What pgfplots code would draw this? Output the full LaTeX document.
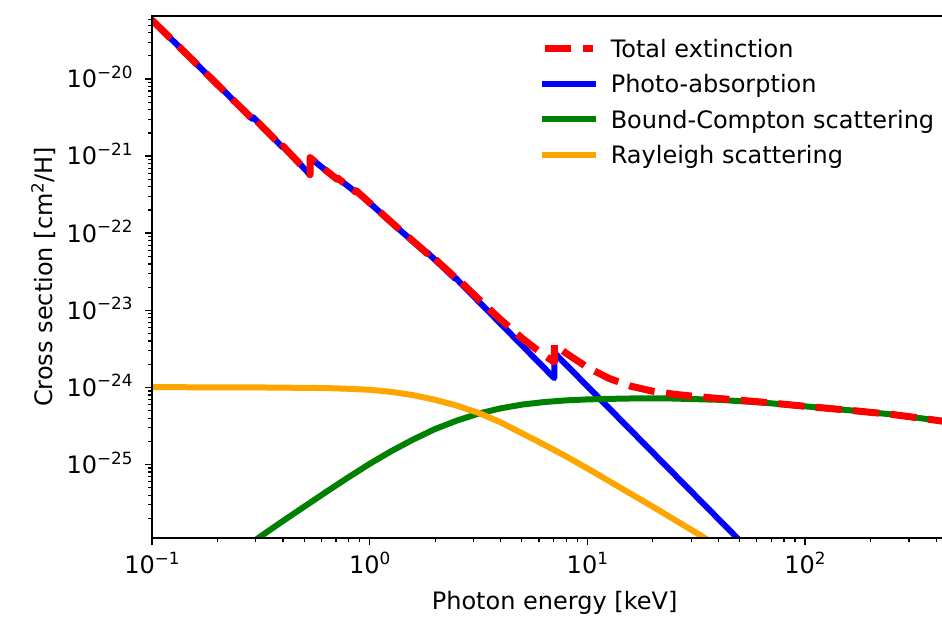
\documentclass[border=0pt]{standalone}
\usepackage{fontspec}
\setmainfont{DejaVu Sans}
\usepackage{pgfplots}
\pgfplotsset{compat=1.18}

% 10 with a raised exponent, set in the text font like matplotlib's mathtext
\newcommand{\pw}[1]{10\raisebox{4.6pt}{\fontsize{8.4}{9}\selectfont #1}}
\newcommand{\sps}[1]{\raisebox{4.6pt}{\fontsize{8.4}{9}\selectfont #1}}

\begin{document}
\begin{tikzpicture}
\begin{axis}[
    scale only axis,
    width=402.6pt, height=261pt,
    xmode=log, ymode=log,
    xmin=0.1, xmax=500,
    ymin=1.114e-26, ymax=6.58e-20,
    axis on top,
    tick pos=left, tick align=outside,
    major tick length=3.5pt, minor tick length=2pt,
    every major tick/.style={black, line width=0.8pt},
    every minor tick/.style={black, line width=0.6pt},
    axis line style={line width=0.8pt},
    xtick={0.1,1,10,100},
    xticklabels={\pw{−1},\pw{0},\pw{1},\pw{2}},
    minor xtick={0.2,0.3,0.4,0.5,0.6,0.7,0.8,0.9,2,3,4,5,6,7,8,9,20,30,40,50,60,70,80,90,200,300,400},
    ytick={1e-25,1e-24,1e-23,1e-22,1e-21,1e-20},
    yticklabels={\pw{−25},\pw{−24},\pw{−23},\pw{−22},\pw{−21},\pw{−20}},
    minor ytick={2e-26,3e-26,4e-26,5e-26,6e-26,7e-26,8e-26,9e-26,
                 2e-25,3e-25,4e-25,5e-25,6e-25,7e-25,8e-25,9e-25,
                 2e-24,3e-24,4e-24,5e-24,6e-24,7e-24,8e-24,9e-24,
                 2e-23,3e-23,4e-23,5e-23,6e-23,7e-23,8e-23,9e-23,
                 2e-22,3e-22,4e-22,5e-22,6e-22,7e-22,8e-22,9e-22,
                 2e-21,3e-21,4e-21,5e-21,6e-21,7e-21,8e-21,9e-21,
                 2e-20,3e-20,4e-20,5e-20,6e-20},
    tick label style={font=\fontsize{12}{14}\selectfont},
    xticklabel style={anchor=north, inner sep=0pt, yshift=-3.35pt},
    yticklabel style={anchor=base east, inner sep=0pt, xshift=-6pt, yshift=-4.37pt},
    label style={font=\fontsize{12}{14}\selectfont},
    xlabel={Photon energy [keV]},
    ylabel={Cross section [cm\sps{2}/H]},
    xlabel style={at={(axis description cs:0.5,-0.1366)}, anchor=base},
    ylabel style={at={(axis description cs:-0.1233,0.5)}, anchor=base},
    legend entries={Total extinction, Photo-absorption, Bound-Compton scattering, Rayleigh scattering},
    legend image code/.code={\draw[#1] (0pt,4.37pt) -- (24pt,4.37pt);},
    legend style={draw=none, fill=none, at={(0.4842,0.9559)}, anchor=north west,
        inner sep=0pt, outer sep=0pt, row sep=5.75pt, column sep=6.95pt,
        cells={anchor=base west},
        nodes={inner sep=0pt, text height=9pt, text depth=3pt},
        font=\fontsize{12}{14}\selectfont},
]

\addlegendimage{red, line width=3.5pt, dash pattern=on 13pt off 5.8pt, line cap=butt}

% photo-absorption
\addplot[blue, line width=3pt, line cap=rect, line join=round] coordinates {
(0.1,5.83e-20)
(0.29,3.02e-21) (0.29,3.24e-21)
(0.40,1.29e-21) (0.40,1.35e-21)
(0.532,5.75e-22) (0.532,9.55e-22)
(0.708,5.01e-22) (0.708,5.25e-22)
(0.867,3.39e-22) (0.867,3.55e-22)
(1.33,1.20e-22)
(1.84,5.37e-23) (1.84,5.62e-23)
(2.47,2.57e-23) (2.47,2.66e-23)
(7.05,1.32e-24) (7.05,2.82e-24)
(80,2.71e-27)
};

% bound-Compton scattering
\addplot[color={rgb,255:red,0;green,128;blue,0}, line width=3pt, line cap=rect, line join=round] coordinates {
(0.2512,7.41e-27) (0.3162,1.175e-26) (0.3981,1.841e-26) (0.5012,2.851e-26)
(0.631,4.416e-26) (0.7943,6.761e-26) (1,1.023e-25) (1.259,1.496e-25)
(1.585,2.113e-25) (1.995,2.884e-25) (2.512,3.715e-25) (3.162,4.571e-25)
(3.981,5.346e-25) (5.012,5.998e-25) (6.31,6.457e-25) (7.943,6.792e-25)
(10,6.998e-25) (12.59,7.112e-25) (15.85,7.194e-25) (22.39,7.244e-25)
(39.81,6.918e-25) (63.1,6.383e-25) (100,5.689e-25) (158.5,5.070e-25)
(251.2,4.467e-25) (398.1,3.758e-25) (501.2,3.428e-25)
};

% Rayleigh scattering
\addplot[color={rgb,255:red,255;green,165;blue,0}, line width=3pt, line cap=rect, line join=round] coordinates {
(0.1,1.009e-24) (0.3162,1.0e-24) (0.631,9.817e-25) (0.7943,9.616e-25)
(1,9.333e-25) (1.259,8.750e-25) (1.585,7.943e-25) (1.995,6.918e-25)
(2.512,5.821e-25) (3.162,4.677e-25) (3.981,3.548e-25) (5.012,2.541e-25)
(6.31,1.820e-25) (7.943,1.288e-25) (10,8.913e-26) (12.59,6.095e-26)
(15.85,4.169e-26) (19.95,2.851e-26) (25.12,1.928e-26) (31.62,1.303e-26)
(50.12,5.888e-27)
};

% total extinction
\addplot[red, line width=3.5pt, dash pattern=on 13pt off 5.8pt, line cap=butt, line join=round, forget plot] coordinates {
(0.1,5.83e-20)
(0.29,3.02e-21) (0.29,3.24e-21)
(0.40,1.29e-21) (0.40,1.35e-21)
(0.532,5.76e-22) (0.532,9.56e-22)
(0.708,5.02e-22) (0.708,5.26e-22)
(0.867,3.40e-22) (0.867,3.56e-22)
(1.33,1.21e-22)
(1.84,5.47e-23) (1.84,5.72e-23)
(2.47,2.67e-23) (2.47,2.76e-23)
(3.162,1.404e-23) (3.981,7.67e-24) (5.012,4.35e-24) (6.31,2.635e-24)
(7.05,2.13e-24) (7.05,3.63e-24)
(7.943,2.808e-24) (10,1.824e-24) (12.59,1.308e-24) (15.85,1.038e-24)
(19.95,8.95e-25) (25.12,8.15e-25) (31.62,7.63e-25) (39.81,7.21e-25)
(63.1,6.47e-25) (100,5.70e-25) (158.5,5.07e-25) (251.2,4.47e-25)
(398.1,3.76e-25) (501.2,3.43e-25)
};

\end{axis}
\pgfresetboundingbox
\path ([shift={(-76pt,-41pt)}]current axis.south west) rectangle ([shift={(395pt,8pt)}]current axis.north west);
\end{tikzpicture}
\end{document}
